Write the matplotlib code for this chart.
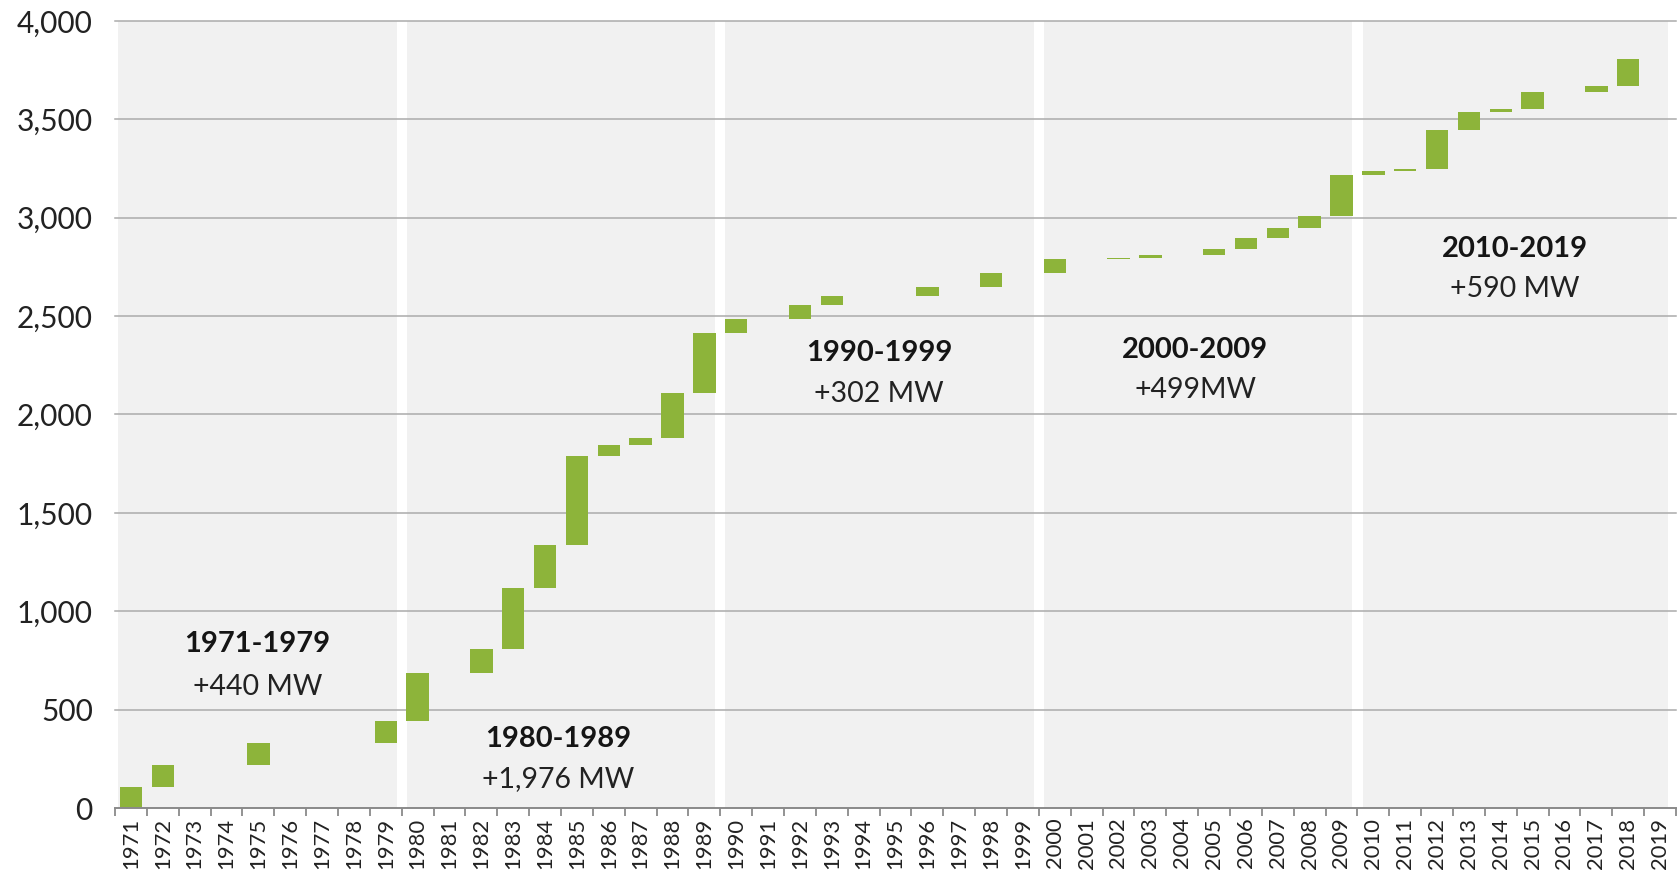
import numpy as np
import matplotlib
matplotlib.use("Agg")
import matplotlib.pyplot as plt

plt.rcParams['font.family'] = ['Lato', 'DejaVu Sans']

# Installed capacity added each year (MW), 1971-2019
years = list(range(1971, 2020))
additions = [
    108, 110, 0, 0, 112, 0, 0, 0, 110,          # 1971-1979
    245, 0, 125, 310, 215, 455, 55, 35, 230, 306,  # 1980-1989
    70, 0, 70, 45, 0, 0, 47, 0, 70, 0,          # 1990-1999
    72, 0, 7, 13, 0, 30, 55, 55, 60, 207,       # 2000-2009
    20, 10, 200, 90, 18, 82, 0, 35, 135, 0,     # 2010-2019
]

decade_titles = ["1971-1979", "1980-1989", "1990-1999", "2000-2009", "2010-2019"]
decade_totals = ["+440 MW", "+1,976 MW", "+302 MW", "+499MW", "+590 MW"]
decade_spans = [(0, 8), (9, 18), (19, 28), (29, 38), (39, 48)]

y_ticks = [0, 500, 1000, 1500, 2000, 2500, 3000, 3500, 4000]

# Waterfall: each bar floats on the running total of previous years
adds = np.array(additions, dtype=float)
starts = np.concatenate([[0.0], np.cumsum(adds)[:-1]])
x = np.arange(len(years))

W, H = 1681, 872
fig = plt.figure(figsize=(W / 100, H / 100), dpi=100)
ax = fig.add_axes([115 / W, (H - 808) / H, (1676 - 115) / W, (808 - 21) / H])
ax.set_xlim(-0.5, len(years) - 0.5)
ax.set_ylim(0, 4000)
ax.set_facecolor("white")

# Shaded decade panels separated by thin white gaps
for i, (a, b) in enumerate(decade_spans):
    left_in = 0.08 if i == 0 else 0.16
    right_in = 0.25 if i == len(decade_spans) - 1 else 0.16
    ax.axvspan(a - 0.5 + left_in, b + 0.5 - right_in, color="#f1f1f1", lw=0, zorder=0)

# Horizontal gridlines
for v in y_ticks[1:]:
    ax.axhline(v, color="#ababab", lw=1.1, zorder=1, clip_on=False)

ax.bar(x, adds, bottom=starts, width=0.70, color="#8db43a", zorder=3, linewidth=0)

# Decade annotations
label_pos = [(3.97, 836, 614), (13.42, 353, 146), (23.48, 2314, 2102),
             (33.41, 2330, 2123), (43.43, 2843, 2636)]
for (cx, y1, y2), title, total in zip(label_pos, decade_titles, decade_totals):
    ax.text(cx, y1, title, ha="center", va="center", fontsize=21,
            fontweight="bold", color="#151515", zorder=5)
    ax.text(cx, y2, total, ha="center", va="center", fontsize=20.5,
            color="#222222", zorder=5)

# Axes styling
for s in ["top", "right", "left"]:
    ax.spines[s].set_visible(False)
ax.spines["bottom"].set_color("#8a8a8a")
ax.spines["bottom"].set_linewidth(1.4)
ax.spines["bottom"].set_zorder(4)

ax.set_yticks(y_ticks)
ax.set_yticklabels([f"{v:,}" for v in y_ticks])
ax.tick_params(axis="y", length=0, pad=16, labelsize=21.5, labelcolor="#222222")

ax.set_xticks(x)
ax.set_xticklabels([str(y) for y in years], rotation=90)
ax.tick_params(axis="x", which="major", length=0, pad=7, labelsize=15.8,
               labelcolor="#222222")
ax.set_xticks(np.arange(-0.5, len(years), 1.0), minor=True)
ax.tick_params(axis="x", which="minor", length=6, width=1.3, color="#8a8a8a",
               direction="out")
for lbl in ax.get_xticklabels():
    lbl.set_verticalalignment("top")

fig.savefig("out.png", dpi=100, facecolor="white")
